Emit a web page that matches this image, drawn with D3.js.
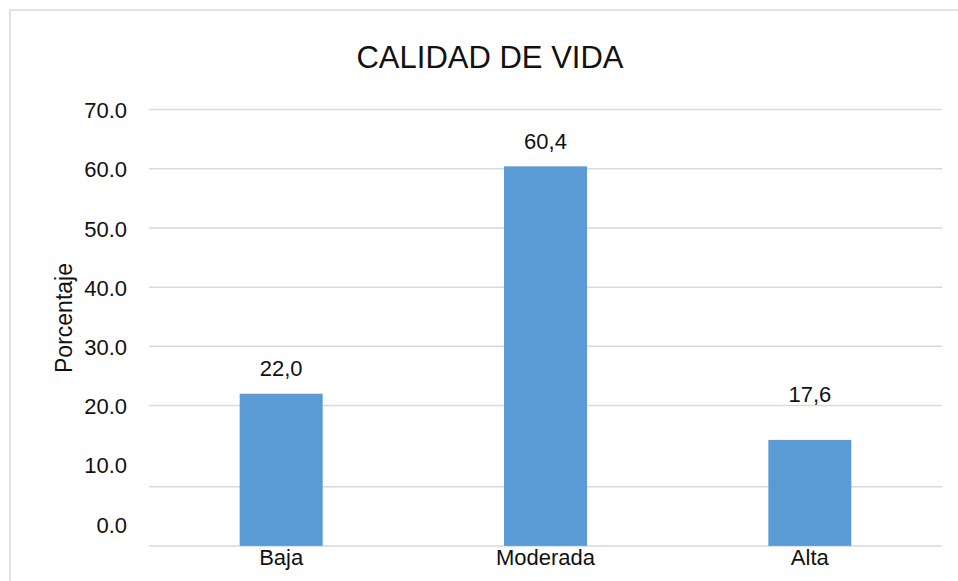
<!doctype html>
<html lang="es">
<head>
<meta charset="utf-8">
<title>Calidad de vida</title>
<style>
  body { margin: 0; background: #fff; }
  text { font-family: "Liberation Sans", Arial, sans-serif; fill: #111; }
</style>
</head>
<body>
<script src="https://d3js.org/d3.v7.min.js"></script>
<script>
// data
var categories = ["Baja", "Moderada", "Alta"];
var barValues = [22.0, 60.4, 14.2];        // bar heights as drawn
var labelValues = [22.0, 60.4, 17.6];      // values printed above the bars
var labelText = ["22,0", "60,4", "17,6"];
var tickValues = [0, 10, 20, 30, 40, 50, 60, 70];
var gridValues = [-3.7, 6.3, 20, 30, 40, 50, 60, 70]; // gridlines as they appear (bottom two shifted)

var w = 958, h = 581;
var left = 149, right = 942;

var svg = d3.select("body").append("svg")
  .attr("width", w)
  .attr("height", h);

// outer frame
svg.append("rect")
  .attr("x", 10).attr("y", 10)
  .attr("width", 960).attr("height", 600)
  .attr("fill", "none")
  .attr("stroke", "#d9d9d9")
  .attr("stroke-width", 1.5);

var x = d3.scaleBand()
  .domain(categories)
  .range([left, right])
  .paddingInner(0.686)
  .paddingOuter(0.343);

var y = d3.scaleLinear()
  .domain([0, 70])
  .range([524, 109.5]);

var base = y(d3.min(gridValues));

// gridlines
svg.append("g").selectAll("line")
  .data(gridValues)
  .enter().append("line")
  .attr("x1", left).attr("x2", right)
  .attr("y1", function(d) { return y(d); })
  .attr("y2", function(d) { return y(d); })
  .attr("stroke", "#d9d9d9")
  .attr("stroke-width", 1.5);

// tick labels
svg.append("g").selectAll("text")
  .data(tickValues)
  .enter().append("text")
  .attr("x", 127)
  .attr("y", function(d) { return y(d) + 1; })
  .attr("dy", "0.35em")
  .attr("text-anchor", "end")
  .style("font-size", "22px")
  .text(function(d) { return d3.format(".1f")(d); });

// bars
svg.append("g").selectAll("rect")
  .data(barValues)
  .enter().append("rect")
  .attr("x", function(d, i) { return x(categories[i]); })
  .attr("y", function(d) { return y(d); })
  .attr("width", x.bandwidth())
  .attr("height", function(d) { return base - y(d); })
  .attr("fill", "#5b9bd5");

// value labels
svg.append("g").selectAll("text")
  .data(labelValues)
  .enter().append("text")
  .attr("x", function(d, i) { return x(categories[i]) + x.bandwidth() / 2; })
  .attr("y", function(d) { return y(d) - 25; })
  .attr("dy", "0.35em")
  .attr("text-anchor", "middle")
  .style("font-size", "22px")
  .text(function(d, i) { return labelText[i]; });

// category labels
svg.append("g").selectAll("text")
  .data(categories)
  .enter().append("text")
  .attr("x", function(d) { return x(d) + x.bandwidth() / 2; })
  .attr("y", 557)
  .attr("dy", "0.35em")
  .attr("text-anchor", "middle")
  .style("font-size", "22px")
  .text(function(d) { return d; });

// title
svg.append("text")
  .attr("x", 490)
  .attr("y", 57)
  .attr("dy", "0.35em")
  .attr("text-anchor", "middle")
  .style("font-size", "31px")
  .text("CALIDAD DE VIDA");

// y axis title
svg.append("text")
  .attr("transform", "translate(64,318) rotate(-90)")
  .attr("dy", "0.35em")
  .attr("text-anchor", "middle")
  .style("font-size", "23px")
  .text("Porcentaje");
</script>
</body>
</html>
